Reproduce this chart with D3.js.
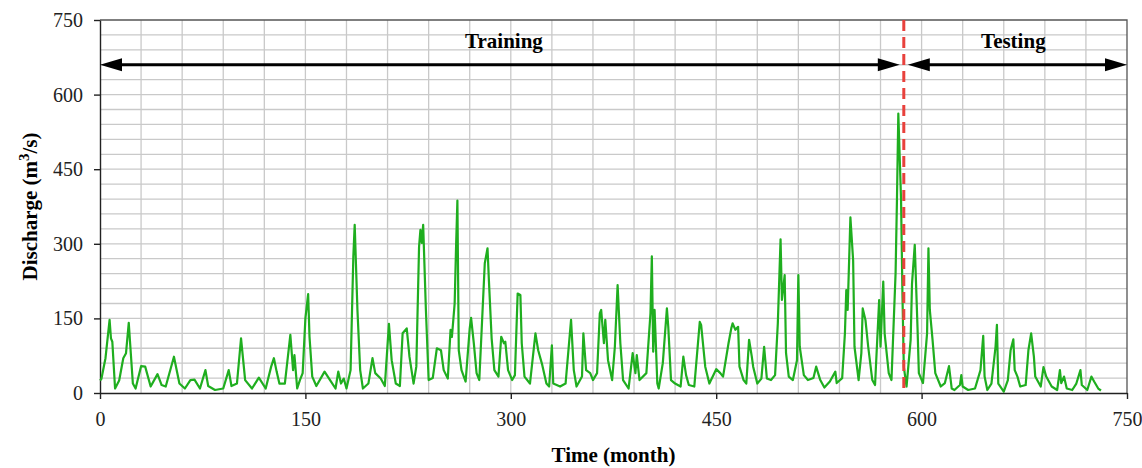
<html>
<head>
<meta charset="utf-8">
<script src="https://cdn.jsdelivr.net/npm/d3@7"></script>
<style>
body { margin: 0; background: #fff; }
text { font-family: "Liberation Serif", "Times New Roman", serif; }
</style>
</head>
<body>
<svg id="chart"></svg>
<script>

// monthly discharge (month index, m3/s)
var months = [0,1,4,7,8,9,11,14,17,19,21,22,24,26,30,33,37,42,45,48,54,58,62,66,69,73,77,79,84,90,94,96,100,103,106,111,116,121,125,127,129,131,135,139,141,142,144,146,148,150,152,153,155,158,164,168,172,174,176,178,180,183,185,186,188,190,192,196,199,201,205,208,211,213,216,219,221,224,226,229,231,233,234,235,236,238,240,243,246,249,251,254,256,257,259,260,261,262,264,267,270,271,273,275,277,281,283,284,286,288,291,293,295,296,298,301,303,305,307,308,310,314,318,320,323,326,328,330,331,336,340,344,346,348,352,353,355,358,360,363,365,366,368,369,371,374,376,378,380,382,386,389,391,392,394,399,402,403,404,405,407,408,411,414,415,417,420,424,426,428,430,434,438,439,442,445,448,450,453,455,459,461,462,464,466,467,470,472,474,476,477,480,483,485,487,490,493,495,497,498,500,501,503,506,509,510,511,514,517,521,523,526,529,533,537,538,542,544,545,546,548,550,551,554,556,557,559,561,564,566,569,570,572,573,576,578,581,582,583,585,586,587,589,592,593,595,597,598,601,604,605,606,608,610,614,617,620,622,624,628,629,630,634,639,643,645,646,648,651,654,655,656,660,663,665,667,668,670,672,676,678,680,682,683,687,689,691,695,699,701,702,704,706,710,713,716,717,721,724,726,729,731];
var discharge = [25,28,70,147,110,103,9,25,70,80,141,100,19,9,54,53,13,38,16,13,73,19,9,26,27,9,46,14,6,9,46,14,19,110,26,9,31,9,53,70,43,19,19,117,46,76,9,26,40,150,199,113,33,14,43,26,9,43,19,29,9,46,274,338,167,46,9,19,70,40,29,14,139,66,19,14,120,130,73,19,53,294,328,302,338,167,26,30,90,86,46,29,127,113,180,291,387,86,46,23,130,151,100,40,26,261,291,227,110,46,33,113,100,103,46,26,36,200,197,100,33,19,120,86,56,19,13,96,19,13,19,147,46,13,33,120,46,40,26,40,160,167,100,147,66,26,93,217,100,26,9,80,40,76,26,40,160,275,83,167,19,9,60,170,133,26,19,13,73,36,16,13,143,137,53,19,36,48,40,33,100,130,140,127,133,53,26,19,107,73,53,19,29,93,29,26,36,140,309,187,237,80,33,26,66,237,93,36,26,30,53,26,11,23,43,20,30,120,207,167,353,267,93,26,80,170,147,93,26,16,187,93,224,120,40,26,241,388,562,388,200,53,13,107,220,298,133,40,20,120,291,167,107,40,13,20,54,9,6,16,36,13,6,9,46,115,33,6,19,93,137,19,3,26,86,108,46,33,13,16,86,120,73,33,13,52,33,13,6,46,20,33,9,6,19,46,16,6,33,23,9,5];

var xTicks = [0, 150, 300, 450, 600, 750];
var yTicks = [0, 150, 300, 450, 600, 750];
var gridStep = 30;
var splitMonth = 587;
var arrowLevel = 660;
var periodLabels = ["Training", "Testing"];

var width = 1142, height = 468;
var margin = {top: 20, right: 15, bottom: 75, left: 100};

var svg = d3.select("#chart").attr("width", width).attr("height", height);

var x = d3.scaleLinear().domain([0, 750]).range([margin.left, width - margin.right]);
var y = d3.scaleLinear().domain([0, 750]).range([height - margin.bottom, margin.top]);

// grid every 30 units
var grid = svg.append("g").attr("stroke", "#c9c9c9").attr("stroke-width", 1.3);
d3.range(gridStep, 750, gridStep).forEach(function(v) {
	grid.append("line").attr("x1", x(v)).attr("x2", x(v)).attr("y1", y(0)).attr("y2", y(750));
	grid.append("line").attr("x1", x(0)).attr("x2", x(750)).attr("y1", y(v)).attr("y2", y(v));
});

// frame top and right
svg.append("path")
	.attr("d", "M" + x(0) + "," + y(750) + "H" + x(750) + "V" + y(0))
	.attr("fill", "none").attr("stroke", "#555").attr("stroke-width", 1.3);

// axes
var xAxis = svg.append("g")
	.attr("transform", "translate(0," + y(0) + ")")
	.call(d3.axisBottom(x).tickValues(xTicks).tickSize(6).tickPadding(13).tickSizeOuter(0));
var yAxis = svg.append("g")
	.attr("transform", "translate(" + x(0) + ",0)")
	.call(d3.axisLeft(y).tickValues(yTicks).tickSize(6).tickPadding(11).tickSizeOuter(0));
[xAxis, yAxis].forEach(function(a) {
	a.attr("font-family", null);
	a.selectAll("text").style("font-family", "'Liberation Serif', serif").attr("font-size", 20).attr("fill", "#222");
	a.selectAll("line, path").attr("stroke", "#222").attr("stroke-width", 1.4);
});

// discharge series
var line = d3.line()
	.x(function(d, i) { return x(months[i]); })
	.y(function(d) { return y(d); });
svg.append("path")
	.datum(discharge)
	.attr("d", line)
	.attr("fill", "none")
	.attr("stroke", "#1fae1f")
	.attr("stroke-width", 2.2)
	.attr("stroke-linejoin", "round");

// split between training and testing
svg.append("line")
	.attr("x1", x(splitMonth)).attr("x2", x(splitMonth))
	.attr("y1", y(750)).attr("y2", y(0))
	.attr("stroke", "#e8413c").attr("stroke-width", 3)
	.attr("stroke-dasharray", "11,6");

// period arrows
function arrowHead(tip, dir, yy) {
	var len = 22, half = 6.5;
	svg.append("path")
		.attr("d", "M" + tip + "," + yy + "L" + (tip - dir * len) + "," + (yy - half) +
			"L" + (tip - dir * len) + "," + (yy + half) + "Z")
		.attr("fill", "#000");
}
function periodArrow(from, to, label) {
	var ya = y(arrowLevel);
	var x1 = x(from) + (from == splitMonth ? 4 : 0);
	var x2 = x(to) - (to == splitMonth ? 4 : 0);
	svg.append("line")
		.attr("x1", x1 + 10).attr("x2", x2 - 10)
		.attr("y1", ya).attr("y2", ya)
		.attr("stroke", "#000").attr("stroke-width", 3);
	arrowHead(x1, -1, ya);
	arrowHead(x2, 1, ya);
	svg.append("text")
		.attr("x", label == "Training" ? x(295) : x(667))
		.attr("y", 48)
		.attr("text-anchor", "middle")
		.attr("font-size", 21)
		.attr("font-weight", "bold")
		.text(label);
}
periodArrow(0, splitMonth, periodLabels[0]);
periodArrow(splitMonth, 750, periodLabels[1]);

// axis titles
svg.append("text")
	.attr("x", (x(0) + x(750)) / 2)
	.attr("y", 462)
	.attr("text-anchor", "middle")
	.attr("font-size", 21)
	.attr("font-weight", "bold")
	.text("Time (month)");

var yt = svg.append("text")
	.attr("transform", "translate(37," + ((y(0) + y(750)) / 2) + ") rotate(-90)")
	.attr("text-anchor", "middle")
	.attr("font-size", 21)
	.attr("font-weight", "bold");
yt.append("tspan").text("Discharge (m");
yt.append("tspan").attr("dy", -8).attr("font-size", 15).text("3");
yt.append("tspan").attr("dy", 8).text("/s)");

</script>
</body>
</html>
